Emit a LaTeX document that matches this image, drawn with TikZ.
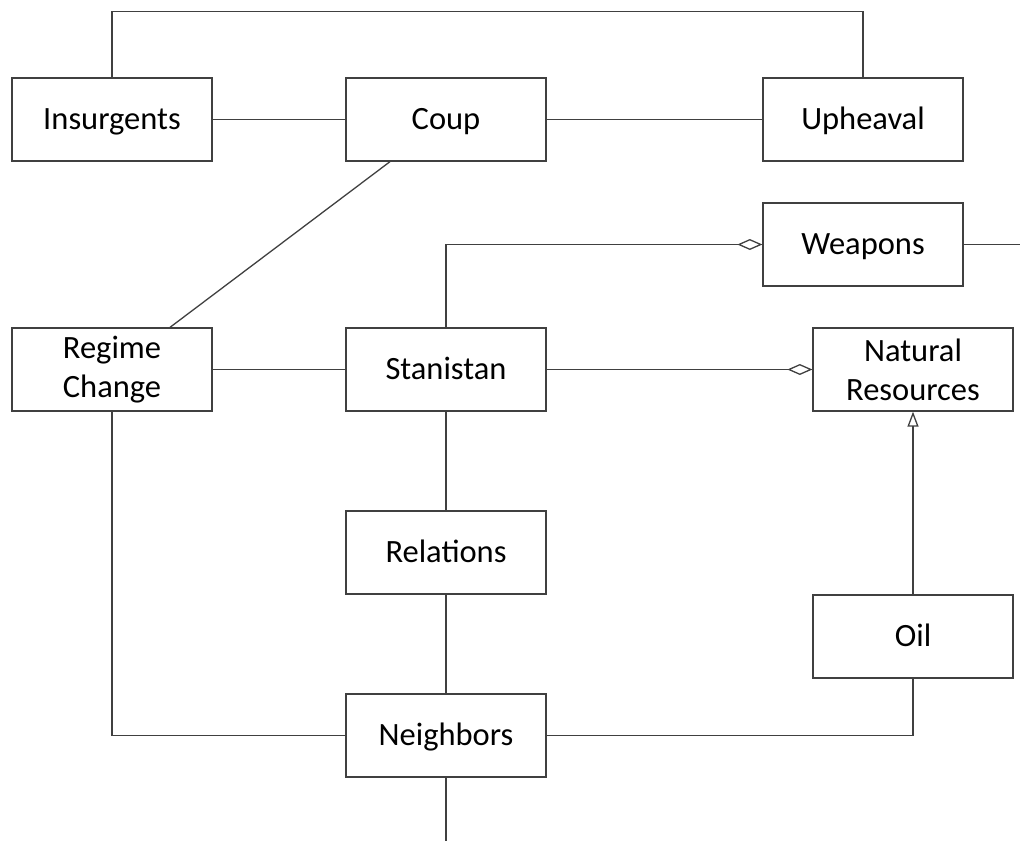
\documentclass[tikz,border=0pt]{standalone}
\usepackage{fontspec}
\setmainfont{Carlito}
\usetikzlibrary{arrows.meta}

\tikzset{
  box/.style={draw, minimum width=200pt, minimum height=83pt, align=center, inner sep=0pt, text=black},
  single/.style={box, text height=23pt, text depth=4pt},
  agg/.style={-{Diamond[open,length=25pt,width=11pt]}},
  inh/.style={-{Triangle[open,length=15pt,width=11pt]}}
}

\begin{document}
\begin{tikzpicture}[x=1pt,y=-1pt,font=\fontsize{32.5}{39}\selectfont,line width=1.3pt,color=black!75]

\useasboundingbox (0,0) rectangle (1020,841);

% boxes
\node[single] (ins) at (112,119.5) {Insurgents};
\node[single] (coup) at (446,119.5) {Coup};
\node[single] (uph) at (863,119.5) {Upheaval};
\node[single] (weap) at (863,244.5) {Weapons};
\node[box] (reg) at (112,369.5) {Regime\\Change};
\node[single] (stan) at (446,369.5) {Stanistan};
\node[box] (nat) at (913,369.5) {Natural\\Resources};
\node[single] (rel) at (446,552.5) {Relations};
\node[single] (oil) at (913,636.5) {Oil};
\node[single] (nbr) at (446,735.5) {Neighbors};

\coordinate (wend) at (1020,244.5);
\coordinate (nend) at (446,841);

% links
\draw (ins.north) -- ++(0,-66) -| (uph.north);
\draw (ins) -- (coup);
\draw (coup) -- (uph);
\draw ([xshift=-56pt]coup.south) -- ([xshift=58pt]reg.north);
\draw[agg] (stan.north) |- (weap.west);
\draw (weap.east) -- (wend);
\draw (reg) -- (stan);
\draw[agg] (stan) -- (nat);
\draw (stan) -- (rel);
\draw (rel) -- (nbr);
\draw (nbr.south) -- (nend);
\draw (reg.south) |- (nbr.west);
\draw (nbr.east) -| (oil.south);
\draw[inh] (oil) -- (nat);

\end{tikzpicture}
\end{document}
